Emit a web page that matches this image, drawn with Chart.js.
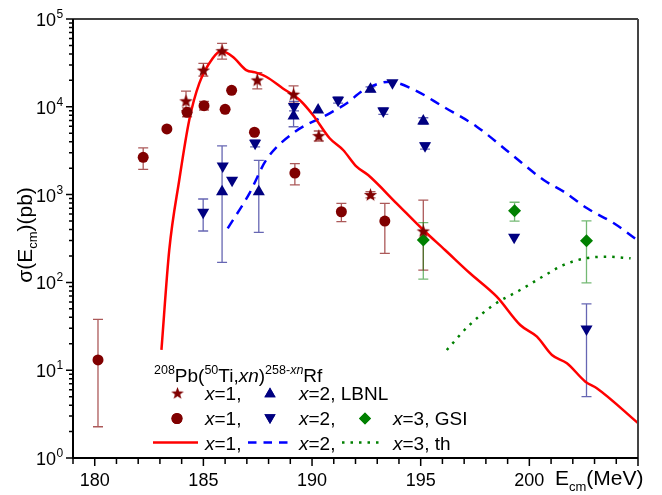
<!DOCTYPE html>
<html>
<head>
<meta charset="utf-8">
<script src="https://cdn.jsdelivr.net/npm/chart.js@4.4.0/dist/chart.umd.min.js"></script>
<style>
  body { margin: 0; background: #fff; }
  #wrap { width: 662px; height: 495px; }
</style>
</head>
<body>
<div id="wrap"><canvas id="chart" width="662" height="495"></canvas></div>
<script>
// x=1, LBNL (stars)
const starE = [184.2, 185.0, 185.86, 187.48, 189.15, 190.31, 192.69, 195.12];
const starS = [11700, 26200, 43500, 20200, 13900, 4690, 1000, 385];
const starLo = [9000, 22400, 35000, 16000, 11000, 4080, 920, 138];
const starHi = [15100, 31300, 52900, 24500, 17300, 5300, 1080, 867];

// x=1 (circles)
const circE = [180.15, 182.23, 183.32, 184.25, 185.03, 186.0, 186.3, 187.35, 189.21, 191.35, 193.35];
const circS = [13.1, 2660, 5590, 8650, 10300, 9360, 15400, 5130, 1760, 638, 500];
const circLo = [2.27, 1940, null, 7700, 9200, null, null, null, 1290, 491, 214];
const circHi = [38, 3400, null, 9700, 11500, null, null, null, 2250, 795, 795];

// x=2, LBNL (up triangles)
const upE = [185.86, 187.55, 189.15, 190.28, 192.69, 195.12];
const upS = [1080, 1080, 7860, 9200, 15800, 6890];
const upLo = [169, 372, 5930, null, 14800, 6300];
const upHi = [3580, 2460, 10500, null, 16900, 7500];

// x=2 (down triangles)
const downE = [184.99, 185.89, 186.32, 187.38, 189.17, 191.2, 193.28, 193.7, 195.2, 199.3, 202.63];
const downS = [630, 2120, 1455, 3840, 10050, 11900, 8960, 18800, 3600, 326, 29.5];
const downLo = [385, null, null, 3500, 9000, 11000, 8200, null, 3300, null, 5.0];
const downHi = [891, null, null, 4200, 11500, 13000, 9800, null, 3900, null, 56.8];

// x=3, GSI (diamonds)
const gsiE = [195.12, 199.32, 202.63];
const gsiS = [304, 656, 299];
const gsiLo = [109, 500, 99];
const gsiHi = [479, 818, 501];

// theory curves
const th1E = [183.07, 183.43, 183.89, 184.35, 184.81, 185.43, 185.81, 186.35, 186.97, 187.43, 187.89, 188.66, 189.43, 190.04, 190.81, 191.43, 192.05, 192.58, 193.89, 195.12, 196.12, 197.27, 198.5, 199.58, 200.35, 201.04, 201.73, 202.58, 203.12, 205.0];
const th1S = [17, 234, 1466, 7080, 18500, 35700, 43200, 37200, 26200, 24500, 22000, 16200, 11950, 8070, 4380, 3220, 2080, 1670, 795, 395, 234, 127, 68.8, 32.7, 24.1, 14.9, 12.0, 7.4, 6.2, 2.5];

const th2E = [186.12, 187.12, 187.89, 189.12, 190.81, 191.6, 192.35, 193.58, 194.66, 196.04, 197.58, 199.12, 200.66, 201.58, 202.66, 203.89, 205.0];
const th2S = [413, 1035, 2480, 4990, 8430, 11000, 15300, 19300, 15800, 10030, 5940, 2950, 1466, 1080, 698, 471, 300];

const th3E = [196.2, 197.2, 198.35, 199.58, 200.73, 201.58, 202.58, 203.58, 204.66];
const th3S = [17, 31.9, 55.3, 81.9, 121, 158, 188, 196, 188];

const xTickLabels = [180, 185, 190, 195, 200];
const yDecades = [0, 1, 2, 3, 4, 5];

const FONT = '"Liberation Sans", Arial, sans-serif';
const MAROON = '#800000';
const NAVY = '#000080';
const GREEN = '#008000';

function pts(xs, ys) {
  return xs.map((v, i) => ({ x: v, y: ys[i] }));
}

// filled 5-point star used as point style
function makeStar(size, color) {
  const c = document.createElement('canvas');
  c.width = size; c.height = size;
  const g = c.getContext('2d');
  const cx = size / 2, cy = size / 2 + 0.6, R = size / 2 - 0.5, r = R * 0.42;
  g.beginPath();
  for (let i = 0; i < 10; i++) {
    const a = -Math.PI / 2 + i * Math.PI / 5;
    const rr = i % 2 ? r : R;
    g.lineTo(cx + rr * Math.cos(a), cy + rr * Math.sin(a));
  }
  g.closePath();
  g.fillStyle = color;
  g.fill();
  return c;
}
const starImg = makeStar(15, MAROON);

function drawRich(ctx, x, y, parts) {
  for (const p of parts) {
    ctx.font = (p.it ? 'italic ' : '') + p.s + 'px ' + FONT;
    ctx.fillText(p.t, x, y + (p.dy || 0));
    x += ctx.measureText(p.t).width;
  }
  return x;
}

const errorBars = {
  id: 'errorBars',
  beforeDatasetsDraw(chart) {
    const { ctx, scales: { x, y } } = chart;
    ctx.save();
    ctx.lineWidth = 1.3;
    chart.data.datasets.forEach(ds => {
      if (!ds.errLo) return;
      ctx.strokeStyle = ds.errColor;
      ds.data.forEach((p, i) => {
        if (ds.errLo[i] == null) return;
        const px = x.getPixelForValue(p.x);
        const y1 = y.getPixelForValue(ds.errLo[i]);
        const y2 = y.getPixelForValue(ds.errHi[i]);
        ctx.beginPath();
        ctx.moveTo(px, y1); ctx.lineTo(px, y2);
        ctx.moveTo(px - 5, y1); ctx.lineTo(px + 5, y1);
        ctx.moveTo(px - 5, y2); ctx.lineTo(px + 5, y2);
        ctx.stroke();
      });
    });
    ctx.restore();
  }
};

const axisDecor = {
  id: 'axisDecor',
  afterDraw(chart) {
    const { ctx, chartArea: a, scales: { x, y } } = chart;
    ctx.save();
    // frame
    ctx.strokeStyle = '#000';
    ctx.lineWidth = 1.5;
    ctx.beginPath();
    ctx.moveTo(a.left, a.top); ctx.lineTo(a.right, a.top);
    ctx.stroke();
    ctx.strokeStyle = '#444';
    ctx.lineWidth = 2;
    ctx.beginPath();
    ctx.moveTo(a.right, a.top); ctx.lineTo(a.right, a.bottom);
    ctx.stroke();
    ctx.strokeStyle = '#000';
    ctx.beginPath();
    ctx.moveTo(a.left, a.top); ctx.lineTo(a.left, a.bottom); ctx.lineTo(a.right, a.bottom);
    ctx.stroke();

    // x ticks
    ctx.lineWidth = 1.5;
    ctx.beginPath();
    for (let v = 179; v <= 205; v++) {
      const px = x.getPixelForValue(v);
      const len = v % 5 === 0 ? 8 : 6;
      ctx.moveTo(px, a.bottom); ctx.lineTo(px, a.bottom + len);
    }
    // y ticks
    yDecades.forEach(d => {
      for (let m = 1; m <= 9; m++) {
        if (d === 5 && m > 1) break;
        const py = y.getPixelForValue(m * Math.pow(10, d));
        const len = m === 1 ? 7 : 4;
        ctx.moveTo(a.left, py); ctx.lineTo(a.left - len, py);
      }
    });
    ctx.stroke();

    ctx.fillStyle = '#000';
    // x tick labels
    ctx.font = '18px ' + FONT;
    ctx.textAlign = 'center';
    ctx.textBaseline = 'alphabetic';
    xTickLabels.forEach(v => {
      ctx.fillText(String(v), x.getPixelForValue(v), a.bottom + 28);
    });
    // y tick labels 10^n
    yDecades.forEach(d => {
      const py = y.getPixelForValue(Math.pow(10, d));
      ctx.font = '18px ' + FONT;
      ctx.textAlign = 'right';
      ctx.fillText('10', 56, py + 7);
      ctx.font = '12px ' + FONT;
      ctx.textAlign = 'left';
      ctx.fillText(String(d), 56.5, py - 1);
    });

    // y title
    ctx.textAlign = 'left';
    ctx.save();
    ctx.translate(32, 235);
    ctx.rotate(-Math.PI / 2);
    const yParts = [
      { t: '\u03c3(E', s: 21 },
      { t: 'cm', s: 13, dy: 5 },
      { t: ')(pb)', s: 21 }
    ];
    let w = 0;
    yParts.forEach(p => { ctx.font = p.s + 'px ' + FONT; w += ctx.measureText(p.t).width; });
    drawRich(ctx, -w / 2, 0, yParts);
    ctx.restore();

    // x title
    drawRich(ctx, 555, 485, [
      { t: 'E', s: 21 },
      { t: 'cm', s: 13, dy: 6 },
      { t: '(MeV)', s: 21 }
    ]);
    ctx.restore();
  }
};

const legendBox = {
  id: 'legendBox',
  afterDraw(chart) {
    const ctx = chart.ctx;
    const H = Chart.helpers;
    ctx.save();
    ctx.fillStyle = '#000';
    ctx.textAlign = 'left';
    ctx.textBaseline = 'alphabetic';
    // reaction title
    drawRich(ctx, 154, 381.5, [
      { t: '208', s: 12.5, dy: -8 },
      { t: 'Pb(', s: 19 },
      { t: '50', s: 12.5, dy: -8 },
      { t: 'Ti,', s: 19 },
      { t: 'xn', s: 19, it: true },
      { t: ')', s: 19 },
      { t: '258-', s: 12.5, dy: -8 },
      { t: 'xn', s: 12.5, dy: -8, it: true },
      { t: 'Rf', s: 19 }
    ]);
    const lab = (x, y, rest) => {
      ctx.fillStyle = '#000';
      drawRich(ctx, x, y, [{ t: 'x', s: 19, it: true }, { t: rest, s: 19 }]);
    };
    // row 1
    ctx.drawImage(starImg, 177.5 - 7, 393 - 7, 14, 14);
    lab(205, 399.5, '=1,');
    ctx.fillStyle = NAVY;
    H.drawPoint(ctx, { pointStyle: 'triangle', radius: 6.5, rotation: 0, borderWidth: 0 }, 270, 394);
    ctx.fill();
    lab(299, 399.5, '=2, LBNL');
    // row 2
    ctx.fillStyle = MAROON;
    H.drawPoint(ctx, { pointStyle: 'circle', radius: 5.5, rotation: 0, borderWidth: 0 }, 177, 418.5);
    ctx.fill();
    lab(205, 424.5, '=1,');
    ctx.fillStyle = NAVY;
    H.drawPoint(ctx, { pointStyle: 'triangle', radius: 6.5, rotation: 180, borderWidth: 0 }, 270, 417.5);
    ctx.fill();
    lab(299, 424.5, '=2,');
    ctx.fillStyle = GREEN;
    H.drawPoint(ctx, { pointStyle: 'rectRot', radius: 6, rotation: 0, borderWidth: 0 }, 365, 418.5);
    ctx.fill();
    lab(393, 424.5, '=3, GSI');
    // row 3
    ctx.lineWidth = 2.5;
    ctx.strokeStyle = '#ff0000';
    ctx.beginPath(); ctx.moveTo(153, 442.5); ctx.lineTo(198, 442.5); ctx.stroke();
    lab(205, 449.5, '=1,');
    ctx.strokeStyle = '#0000ff';
    ctx.setLineDash([8.5, 7]);
    ctx.beginPath(); ctx.moveTo(248, 442.5); ctx.lineTo(294, 442.5); ctx.stroke();
    lab(299, 449.5, '=2,');
    ctx.strokeStyle = GREEN;
    ctx.setLineDash([2.5, 6]);
    ctx.beginPath(); ctx.moveTo(342, 442.5); ctx.lineTo(381, 442.5); ctx.stroke();
    ctx.setLineDash([]);
    lab(393, 449.5, '=3, th');
    ctx.restore();
  }
};

new Chart(document.getElementById('chart'), {
  type: 'scatter',
  data: {
    datasets: [
      {
        label: 'x=1, LBNL', data: pts(starE, starS),
        pointStyle: starImg, errLo: starLo, errHi: starHi, errColor: 'rgba(128,0,0,0.65)'
      },
      {
        label: 'x=1', data: pts(circE, circS),
        pointStyle: 'circle', pointRadius: 5.5, backgroundColor: MAROON, borderWidth: 0,
        errLo: circLo, errHi: circHi, errColor: 'rgba(128,0,0,0.65)'
      },
      {
        label: 'x=2, LBNL', data: pts(upE, upS),
        pointStyle: 'triangle', pointRadius: 7, backgroundColor: NAVY, borderWidth: 0,
        errLo: upLo, errHi: upHi, errColor: 'rgba(0,0,128,0.6)'
      },
      {
        label: 'x=2', data: pts(downE, downS),
        pointStyle: 'triangle', rotation: 180, pointRadius: 7, backgroundColor: NAVY, borderWidth: 0,
        errLo: downLo, errHi: downHi, errColor: 'rgba(0,0,128,0.6)'
      },
      {
        label: 'x=3, GSI', data: pts(gsiE, gsiS),
        pointStyle: 'rectRot', pointRadius: 6.5, backgroundColor: GREEN, borderWidth: 0,
        errLo: gsiLo, errHi: gsiHi, errColor: 'rgba(0,128,0,0.55)'
      },
      {
        label: 'x=1, th', data: pts(th1E, th1S), showLine: true, pointRadius: 0,
        borderColor: '#ff0000', borderWidth: 2.5, cubicInterpolationMode: 'monotone'
      },
      {
        label: 'x=2, th', data: pts(th2E, th2S), showLine: true, pointRadius: 0,
        borderColor: '#0000ff', borderWidth: 2.5, borderDash: [10, 7], cubicInterpolationMode: 'monotone'
      },
      {
        label: 'x=3, th', data: pts(th3E, th3S), showLine: true, pointRadius: 0,
        borderColor: GREEN, borderWidth: 2.5, borderDash: [2.5, 6], cubicInterpolationMode: 'monotone'
      }
    ]
  },
  options: {
    responsive: false,
    animation: false,
    events: [],
    layout: { padding: { top: 19, right: 24, left: 0, bottom: 0 } },
    plugins: { legend: { display: false }, tooltip: { enabled: false } },
    scales: {
      x: {
        type: 'linear', min: 179, max: 205,
        grid: { display: false }, border: { display: false }, ticks: { display: false },
        afterFit: s => { s.height = 37; }
      },
      y: {
        type: 'logarithmic', min: 1, max: 100000,
        grid: { display: false }, border: { display: false }, ticks: { display: false },
        afterFit: s => { s.width = 73; }
      }
    }
  },
  plugins: [errorBars, axisDecor, legendBox]
});
</script>
</body>
</html>
